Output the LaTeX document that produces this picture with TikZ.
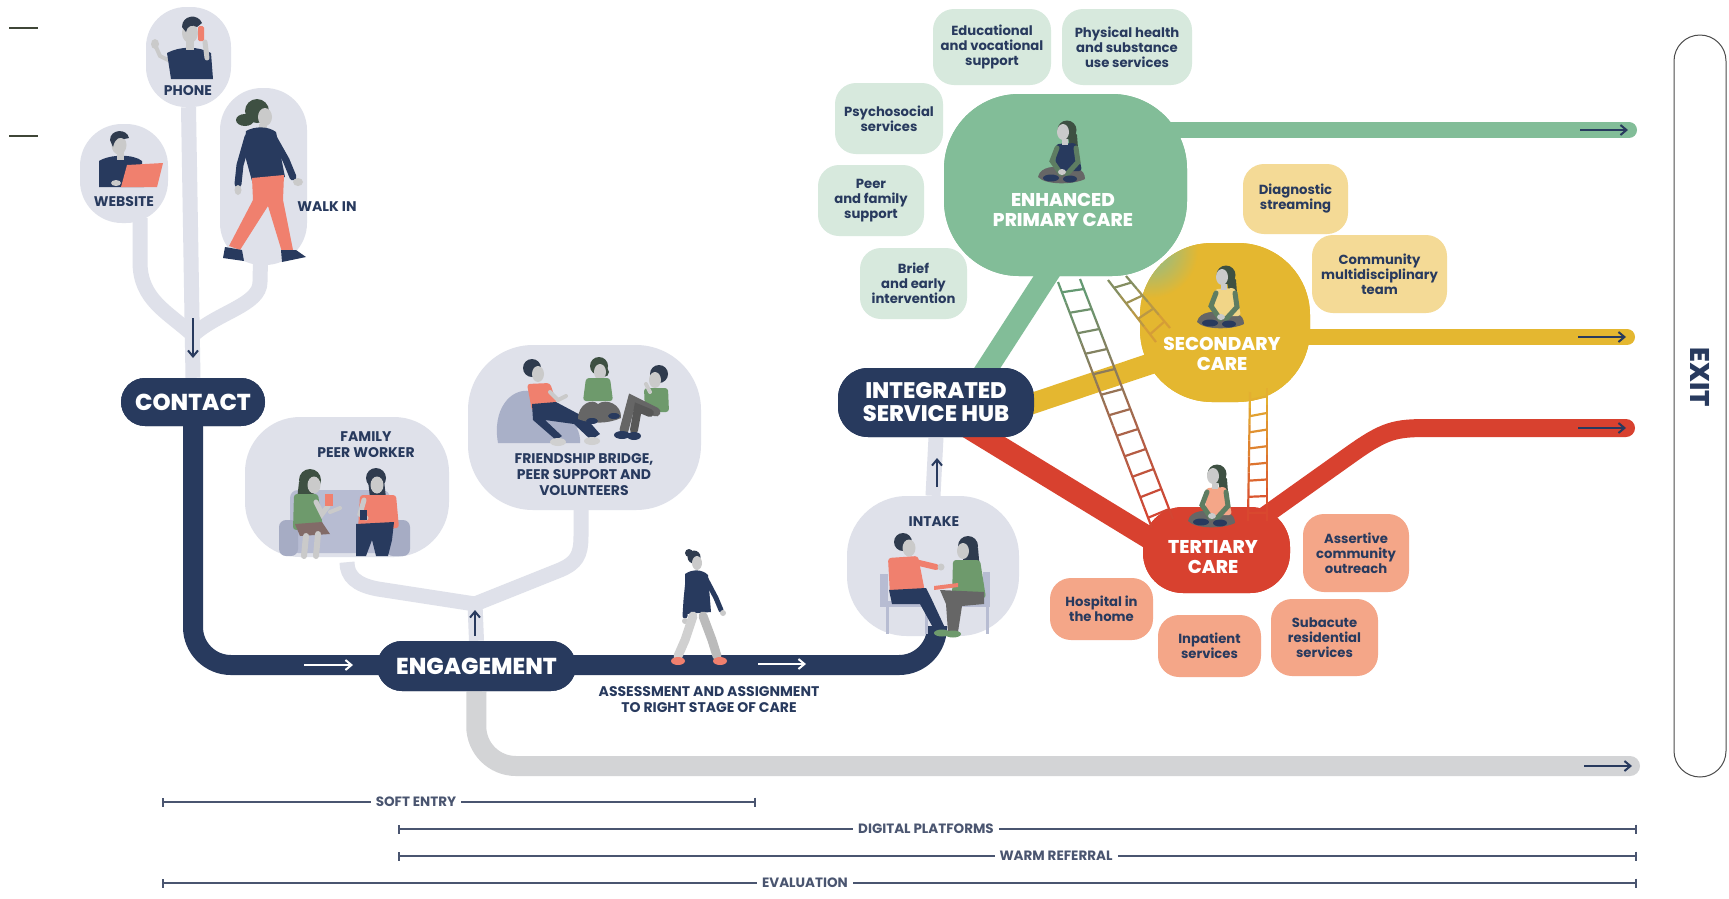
\documentclass[tikz,border=0pt]{standalone}
\usepackage{fontspec}
\setmainfont{Poppins}
\IfFontExistsTF{Poppins ExtraBold}{\newfontfamily\heavy{Poppins ExtraBold}}{\newcommand\heavy{\bfseries}}
\usetikzlibrary{arrows.meta,calc}

\definecolor{navy}{HTML}{283A5E}
\definecolor{bubble}{HTML}{DFE1EA}
\definecolor{trackgray}{HTML}{D3D4D6}
\definecolor{epc}{HTML}{82BD98}
\definecolor{epcdk}{HTML}{5E9E76}
\definecolor{epclt}{HTML}{D7E9DD}
\definecolor{sec}{HTML}{E4B730}
\definecolor{seclt}{HTML}{F4DA96}
\definecolor{ter}{HTML}{D8412F}
\definecolor{terlt}{HTML}{F4A688}
\definecolor{skin}{HTML}{CACACA}
\definecolor{legg}{HTML}{D0D0D0}
\definecolor{hair}{HTML}{2F3B4E}
\definecolor{hairg}{HTML}{3E5042}
\definecolor{coral}{HTML}{F0806E}
\definecolor{shirtg}{HTML}{6E9A6C}
\definecolor{armg}{HTML}{5E7D62}
\definecolor{pantg}{HTML}{666666}
\definecolor{sofa}{HTML}{B7BCD2}
\definecolor{beanbag}{HTML}{A9B0C8}
\definecolor{barline}{HTML}{4A5570}
\definecolor{tick}{HTML}{3F4637}

\tikzset{
  bub/.style={fill=bubble, rounded corners=#1, inner sep=0pt},
  sat/.style={fill=#1, rounded corners=21, inner sep=0pt, align=center,
    text=navy, font=\bfseries\fontsize{13.2}{15}\selectfont},
  navypill/.style={fill=navy, rounded corners=#1, inner sep=0pt, text=white, align=center},
  stem/.style={bubble, line width=15},
  caplbl/.style={text=navy, align=center, font=\bfseries\fontsize{14}{16}\selectfont},
  carelbl/.style={text=white, align=center, font=\heavy\fontsize{18.5}{20.5}\selectfont},
  flowarrow/.style={line width=2, -{Straight Barb[length=6pt,width=10pt]}},
  spanbar/.style={barline, line width=1.6, {Bar[width=9pt]}-{Bar[width=9pt]}},
  barlbl/.style={fill=white, inner xsep=5pt, inner ysep=1pt, text=barline,
    font=\bfseries\fontsize{13.5}{15}\selectfont},
}

% ladder between two rails: #1 top-left, #2 top-right, #3 bottom-left,
% #4 bottom-right, #5 top colour, #6 bottom colour, #7 number of rungs
\newcommand\ladderdraw[7]{%
  \foreach \k in {1,...,#7}{%
    \pgfmathsetmacro\ta{(\k-1)/#7}%
    \pgfmathsetmacro\tb{\k/#7}%
    \pgfmathsetmacro\tm{(\k-0.5)/#7}%
    \pgfmathtruncatemacro\pc{100-100*(\k-0.5)/#7}%
    \draw[line width=2.2, color=#5!\pc!#6] ($#1!\ta!#3$) -- ($#1!\tb!#3$);
    \draw[line width=2.2, color=#5!\pc!#6] ($#2!\ta!#4$) -- ($#2!\tb!#4$);
    \draw[line width=2.2, color=#5!\pc!#6] ($#1!\tm!#3$) -- ($#2!\tm!#4$);
  }%
}

% cross-legged sitting woman, hips at the origin; #1 is the shirt colour
\newcommand\sitfig[1]{%
  \fill[hairg] (4,-45) circle (9.5);
  \fill[hairg] (5,-49) -- (14,-40) -- (15,-27) -- (6,-29) -- cycle;
  \fill[pantg] (-25,2) .. controls (-23,-9) and (-6,-10) .. (3,-6)
     .. controls (12,-9) and (22,-6) .. (22,4) .. controls (10,10) and (-18,10) .. cycle;
  \fill[#1, rounded corners=3] (-7,-31) -- (13,-32) -- (19,-4) -- (-8,-4) -- cycle;
  \draw[armg, line width=5, line cap=round] (-6,-27) -- (-11,-14) -- (-2,-1);
  \draw[armg, line width=5, line cap=round] (13,-27) -- (15,-13) -- (4,-1);
  \fill[navy] (-12,3) ellipse (8 and 3.5);
  \fill[navy] (7,4) ellipse (7 and 3.5);
  \fill[skin] (-1,-3) ellipse (4 and 3);
  \fill[skin] (0,-43) ellipse (6 and 8);
  \fill[skin] (-1,-36) rectangle (5,-30);
}

\begin{document}
\begin{tikzpicture}[x=1pt,y=-1pt]
\fill[white] (0,0) rectangle (1729,898);
\useasboundingbox (0,0) rectangle (1729,898);

% short rules at the top left
\draw[tick, line width=1.2] (9,28) -- (38,28);
\draw[tick, line width=1.2] (9,136) -- (38,136);

% ---------- entry bubbles and their stems ----------
\node[bub=40, minimum width=85, minimum height=100] (phone) at (188.5,57) {};
\node[bub=42, minimum width=88, minimum height=99] (website) at (124,173.5) {};
\node[bub=42, minimum width=87, minimum height=177] (walkin) at (263.5,176.5) {};
\node[navypill=24, minimum width=144, minimum height=48,
      font=\heavy\fontsize{23}{25}\selectfont] (contact) at (193,402) {CONTACT};
\coordinate (cjoin) at (193,335);

\draw[stem] (phone.south) -- (contact.north);
\draw[stem] ($(website.south)+(16,-5)$) -- (140,262) .. controls (140,300) and (168,312) .. (cjoin);
\draw[stem] ($(walkin.south)+(-3,-5)$) -- (260,282) .. controls (260,305) and (218,312) .. (cjoin);

% ---------- engagement area ----------
\node[bub=55, minimum width=204, minimum height=140] (family) at (347,487) {};
\node[bub=65, minimum width=233, minimum height=165] (friend) at (584.5,427.5) {};
\node[bub=60, minimum width=172, minimum height=140] (intake) at (933,566) {};
\node[navypill=25, minimum width=199, minimum height=50] (engage) at (476.5,666) {};
\node[navypill=30, minimum width=196, minimum height=69] (hub) at (936,402.5) {};
\coordinate (ejoin) at (475,604);

\draw[stem] (engage.north) -- (ejoin);
\draw[stem] (ejoin) -- (378,589) .. controls (356,585) and (347,576) .. ($(family.south)+(0,5)$);
\draw[stem] (ejoin) -- (560,570) .. controls (576,563) and (581,556) .. (581,536) -- ($(friend.south)+(-3.5,-5)$);
\draw[stem] (intake.north) -- (hub.south);

% grey route along the bottom
\coordinate (grayend) at (1630,766);
\draw[trackgray, line width=20, rounded corners=40] (engage.south) -- (476,766) -- (grayend);
\fill[trackgray] (grayend) circle (10);

% ---------- coloured routes out of the hub ----------
\coordinate (greenend) at (1629,130);
\coordinate (yellowend) at (1627,337);
\coordinate (redend) at (1626,428);
\node[fill=epc, rounded corners=75, minimum width=243, minimum height=182, inner sep=0pt] (epcb) at (1065.5,185) {};
\node[fill=sec, rounded corners=72, minimum width=170, minimum height=159, inner sep=0pt] (secb) at (1225,322.5) {};
\node[fill=ter, rounded corners=40, minimum width=147, minimum height=86, inner sep=0pt] (terb) at (1216.5,550) {};

% routes are drawn first, then the blobs redrawn on top
\draw[epc, line width=16, line cap=round] (epcb.center |- greenend) -- (greenend);
\draw[sec, line width=16, line cap=round] (secb.center |- yellowend) -- (yellowend);
\draw[ter, line width=18, line cap=round] (terb.center) -- (1350,455)
   .. controls (1385,430) and (1395,428) .. (1428,428) -- (redend);
\draw[epc, line width=22] ($(hub.center)+(29,0)$) -- ($(epcb.center)+(-2,65)$);
\draw[sec, line width=21] ($(hub.east)+(-20,7)$) -- ($(secb.center)+(-35,28)$);
\draw[ter, line width=22] ($(hub.center)+(24,20)$) -- ($(terb.center)+(-46,1)$);

\fill[epc, rounded corners=75] (944,94) rectangle (1187,276);
\fill[sec, rounded corners=72] (1140,243) rectangle (1310,402);
% soft green-to-yellow blend where the two stages overlap
\begin{scope}
  \clip[rounded corners=72] (1140,243) rectangle (1310,402);
  \shade[inner color=epc, outer color=sec] (1150,250) circle (48);
\end{scope}
\fill[ter, rounded corners=40] (1143,507) rectangle (1290,593);

% main navy route
\draw[navy, line width=20, rounded corners=38] (contact.south) -- (193,665) -- (937,665) -- ($(intake.south)+(4,-10)$);
\node[navypill=25, minimum width=199, minimum height=50,
      font=\heavy\fontsize{23}{25}\selectfont] (engage) at (476.5,666) {ENGAGEMENT};
\node[navypill=30, minimum width=196, minimum height=69,
      font=\heavy\fontsize{22.5}{23}\selectfont] (hub) at (936,402.5) {INTEGRATED\\SERVICE HUB};
\node[navypill=24, minimum width=144, minimum height=48,
      font=\heavy\fontsize{23}{25}\selectfont] (contact) at (193,402) {CONTACT};

% ---------- service bubbles ----------
\node[sat=epclt, minimum width=118, minimum height=76] (edu) at (992,47) {Educational\\and vocational\\support};
\node[sat=epclt, minimum width=130, minimum height=76] (phys) at (1127,47) {Physical health\\and substance\\use services};
\node[sat=epclt, minimum width=108, minimum height=71] (psycho) at (889,118.5) {Psychosocial\\services};
\node[sat=epclt, minimum width=106, minimum height=71] (peer) at (871,200.5) {Peer\\and family\\support};
\node[sat=epclt, minimum width=107, minimum height=71] (brief) at (913.5,283.5) {Brief\\and early\\intervention};
\node[sat=seclt, minimum width=105, minimum height=70] (diag) at (1295.5,199) {Diagnostic\\streaming};
\node[sat=seclt, minimum width=135, minimum height=78] (cmt) at (1379.5,274) {Community\\multidisciplinary\\team};
\node[sat=terlt, minimum width=103, minimum height=62] (hosp) at (1101.5,609) {Hospital in\\the home};
\node[sat=terlt, minimum width=103, minimum height=62] (inpat) at (1209.5,646) {Inpatient\\services};
\node[sat=terlt, minimum width=107, minimum height=77] (subac) at (1324.5,637.5) {Subacute\\residential\\services};
\node[sat=terlt, minimum width=106, minimum height=78] (aco) at (1356,553) {Assertive\\community\\outreach};

% ---------- ladders between the stages of care ----------
\ladderdraw{(1058,282)}{(1080,279)}{(1152,528)}{(1173,519)}{epcdk}{ter}{12}
\ladderdraw{(1108,280)}{(1126,276)}{(1156,342)}{(1170,328)}{epcdk}{sec!80!ter}{4}
\ladderdraw{(1250,392)}{(1267,388)}{(1248,521)}{(1267,521)}{sec}{ter}{8}

% ---------- stage labels and sitting figures ----------
\node[carelbl] (epct) at (1063,210) {ENHANCED\\PRIMARY CARE};
\node[carelbl] (sect) at (1222,354) {SECONDARY\\CARE};
\node[carelbl] (tert) at (1213,557) {TERTIARY\\CARE};
\begin{scope}[shift={(1063,175)}]\sitfig{navy}\end{scope}
\begin{scope}[shift={(1222,320)}]\sitfig{seclt!85!sec}\end{scope}
\begin{scope}[shift={(1213,519)}]\sitfig{terlt}\end{scope}

% ---------- entry figures ----------
% phone caller
\draw[skin, line width=4, line cap=round] (172,62) -- (160,56) -- (156,47);
\fill[skin] (155,44) ellipse (4 and 5);
\fill[navy] (167,53) .. controls (180,46) and (198,46) .. (211,53) -- (213,79) -- (171,79) -- cycle;
\fill[skin] (186,40) rectangle (194,50);
\fill[skin] (190,33) ellipse (8 and 10);
\fill[hair] (182,27) .. controls (182,15) and (198,13) .. (202,23) -- (197,27) .. controls (192,24) and (187,26) .. (186,32) -- cycle;
\draw[skin, line width=5, line cap=round] (207,58) -- (205,42);
\fill[coral, rounded corners=1.5] (198,26) rectangle (204,41);
\node[caplbl] (phonet) at (188,91) {PHONE};

% website visitor
\fill[navy] (99,161) .. controls (110,154) and (134,154) .. (142,161) -- (144,187) -- (99,187) -- cycle;
\fill[skin] (117,152) rectangle (124,160);
\fill[skin] (119,145) ellipse (7.5 and 9.5);
\fill[hair] (110,140) .. controls (110,129) and (127,128) .. (129,138) -- (124,139) .. controls (120,136) and (115,138) .. (113,147) -- cycle;
\fill[coral] (121,187) -- (127,165) -- (163,163) -- (157,187) -- cycle;
\fill[skin] (116,183) ellipse (5 and 3);
\node[caplbl] (websitet) at (124,202) {WEBSITE};

% walk-in visitor
\fill[hairg] (257,111) circle (12);
\fill[hairg] (245,120) ellipse (9 and 6);
\fill[skin] (265,117) ellipse (7 and 9);
\fill[skin] (259,124) rectangle (267,132);
\fill[navy] (246,131) .. controls (255,126) and (268,126) .. (276,132) -- (285,177) -- (252,181) -- (244,152) -- cycle;
\draw[navy, line width=7, line cap=round] (248,137) -- (240,165) -- (238,184);
\fill[skin] (238,190) ellipse (3.5 and 5);
\draw[navy, line width=7, line cap=round] (273,137) -- (286,160) -- (293,177);
\fill[skin] (298,182) ellipse (5 and 4);
\fill[coral] (252,178) -- (284,175) -- (283,200) -- (293,250) -- (282,252) -- (268,206) -- (240,250) -- (229,246) -- (253,200) -- cycle;
\fill[navy] (225,247) -- (242,250) -- (244,261) -- (223,258) -- cycle;
\fill[navy] (281,250) -- (296,250) -- (306,257) -- (282,262) -- cycle;
\node[caplbl] (walkint) at (327,207) {WALK IN};

% ---------- engagement figures ----------
% family peer worker: two women on a sofa
\node[caplbl] (familyt) at (366,445) {FAMILY\\PEER WORKER};
\fill[sofa, rounded corners=8] (290,490) rectangle (390,553);
\fill[sofa!88!navy, rounded corners=7] (279,520) rectangle (298,556);
\fill[sofa!88!navy, rounded corners=7] (386,520) rectangle (410,556);
\fill[hairg] (310,480) circle (11);
\fill[hairg] (299,482) -- (314,482) -- (314,500) -- (297,500) -- cycle;
\fill[skin] (314,485) ellipse (6.5 and 8.5);
\fill[shirtg, rounded corners=3] (294,494) -- (318,494) -- (323,528) -- (293,530) -- cycle;
\fill[pantg!80!coral] (295,524) -- (322,522) -- (330,534) -- (300,536) -- cycle;
\draw[skin, line width=6, line cap=round] (318,534) -- (316,556);
\draw[skin, line width=6, line cap=round] (306,536) -- (304,556);
\draw[skin, line width=5, line cap=round] (316,502) -- (322,514) -- (328,506);
\fill[coral] (325,494) rectangle (333,506);
\draw[skin, line width=4, line cap=round] (330,512) -- (340,508);
\fill[hair] (376,478) circle (10);
\fill[hair] (368,480) -- (384,480) -- (386,498) -- (370,498) -- cycle;
\fill[skin] (377,485) ellipse (6.5 and 8.5);
\fill[coral, rounded corners=3] (360,495) -- (396,495) -- (399,528) -- (358,530) -- cycle;
\fill[navy] (356,524) -- (394,522) -- (392,540) -- (388,556) -- (376,556) -- (372,540) -- (366,556) -- (356,556) -- cycle;
\draw[skin, line width=5, line cap=round] (364,500) -- (360,514) -- (366,518);
\fill[navy] (360,510) rectangle (367,520);

% friendship bridge: three people, one on a beanbag
\node[caplbl] (friendt) at (584,475) {FRIENDSHIP BRIDGE,\\PEER SUPPORT AND\\VOLUNTEERS};
\fill[beanbag] (498,443) .. controls (492,410) and (510,388) .. (530,391)
   .. controls (556,395) and (582,424) .. (580,443) -- cycle;
\fill[hair] (532,368) circle (9);
\fill[skin] (538,374) ellipse (6 and 8);
\fill[coral, rounded corners=3] (527,384) -- (550,383) -- (558,407) -- (532,411) -- cycle;
\fill[navy] (532,404) -- (556,402) -- (586,418) -- (600,434) -- (591,440) -- (574,424) -- (545,420) -- (562,436) -- (556,440) -- (533,420) -- cycle;
\fill[legg] (592,441) ellipse (8 and 4);
\fill[legg] (558,442) ellipse (8 and 4);
\draw[skin, line width=4, line cap=round] (550,392) -- (558,400) -- (566,396);
\fill[hairg] (599,366) circle (9);
\fill[hairg] (604,372) circle (5);
\fill[skin] (600,372) ellipse (6 and 8);
\fill[shirtg, rounded corners=3] (586,378) -- (610,378) -- (613,401) -- (583,401) -- cycle;
\fill[pantg] (578,419) .. controls (578,404) and (592,398) .. (598,404)
   .. controls (606,398) and (622,404) .. (621,418) .. controls (608,424) and (590,424) .. cycle;
\fill[navy] (592,421) ellipse (6 and 3);
\fill[navy] (614,416) ellipse (6 and 3);
\fill[hair] (659,374) circle (9);
\fill[skin] (655,380) ellipse (6 and 8);
\fill[shirtg, rounded corners=3] (644,388) -- (668,388) -- (669,412) -- (645,412) -- cycle;
\draw[pantg, line width=9, line cap=round] (656,412) -- (632,400) -- (624,430);
\draw[pantg!85!black, line width=8, line cap=round] (650,413) -- (638,408) -- (634,430);
\fill[navy] (622,435) ellipse (8 and 4);
\fill[navy] (634,436) ellipse (7 and 4);
\draw[skin, line width=4, line cap=round] (650,392) -- (646,384);

% intake conversation
\node[caplbl] (intaket) at (934,522) {INTAKE};
\fill[sofa] (880,574) rectangle (888,607);
\fill[sofa] (882,601) rectangle (930,607);
\draw[sofa, line width=3] (887,607) -- (887,634);
\draw[sofa, line width=3] (926,607) -- (926,634);
\fill[sofa] (983,572) rectangle (990,607);
\fill[sofa] (952,601) rectangle (990,607);
\draw[sofa, line width=3] (956,607) -- (956,634);
\draw[sofa, line width=3] (987,607) -- (987,634);
\fill[hair] (903,542) circle (9);
\fill[skin] (909,548) ellipse (6.5 and 8.5);
\fill[coral, rounded corners=3] (888,558) -- (918,556) -- (925,592) -- (890,595) -- cycle;
\draw[coral, line width=6, line cap=round] (915,562) -- (936,567);
\fill[skin] (941,567) circle (3.5);
\fill[navy] (889,590) -- (926,588) -- (932,600) -- (946,630) -- (936,633) -- (920,604) -- (892,604) -- cycle;
\fill[shirtg] (942,633) ellipse (8 and 3.5);
\fill[hair] (968,546) circle (10);
\fill[hair] (962,548) -- (978,548) -- (980,571) -- (964,567) -- cycle;
\fill[skin] (963,551) ellipse (6 and 8);
\fill[shirtg, rounded corners=3] (953,560) -- (980,560) -- (986,598) -- (952,598) -- cycle;
\fill[pantg] (940,590) -- (984,592) -- (984,604) -- (962,606) -- (958,632) -- (948,632) -- (946,604) -- cycle;
\fill[coral] (934,586) -- (958,583) -- (958,587) -- (934,590) -- cycle;
\fill[shirtg] (953,634) ellipse (8 and 3.5);

% walker on the way to intake
\fill[hair] (694,557) circle (6.5);
\fill[hair] (689,553) circle (4);
\fill[skin] (697,563) ellipse (5 and 7);
\fill[navy] (685,574) .. controls (692,569) and (702,569) .. (708,575) -- (711,612) -- (686,614) -- cycle;
\draw[navy, line width=5, line cap=round] (706,579) -- (716,598) -- (721,610);
\draw[navy, line width=5, line cap=round] (688,580) -- (686,600) -- (685,616);
\fill[skin] (723,613) circle (3);
\fill[skin] (685,621) circle (3);
\draw[legg, line width=9, line cap=round] (693,616) -- (685,640) -- (678,656);
\draw[legg!90!black, line width=9, line cap=round] (703,616) -- (712,640) -- (717,656);
\fill[coral] (678,661) ellipse (7 and 4);
\fill[coral] (720,661) ellipse (7 and 4);

\node[caplbl] (assess) at (709,700) {ASSESSMENT AND ASSIGNMENT\\TO RIGHT STAGE OF CARE};

% ---------- direction arrows ----------
\draw[navy, flowarrow] (193,318) -- (193,358);
\draw[navy, flowarrow] (475,636) -- (475,610);
\draw[navy, flowarrow] (937,487) -- (937,458);
\draw[white, flowarrow] (304,665) -- (353,665);
\draw[white, flowarrow] (758,664) -- (806,664);
\draw[navy, flowarrow] (1580,130) -- (1628,130);
\draw[navy, flowarrow] (1578,337) -- (1626,337);
\draw[navy, flowarrow] (1578,428) -- (1626,428);
\draw[navy, flowarrow] (1584,766) -- (1632,766);

% ---------- exit column ----------
\node[draw=black!70, line width=1, fill=white, rounded corners=26, minimum width=52,
      minimum height=742, inner sep=0pt] (exit) at (1700,406) {};
\node[rotate=-90, text=navy, font=\heavy\fontsize{27}{29}\selectfont] (exitt) at (1700,377) {EXIT};

% ---------- spans along the bottom ----------
\coordinate (se1) at (162,802);  \coordinate (se2) at (756,802);
\coordinate (dp1) at (398,829);  \coordinate (dp2) at (1637,829);
\coordinate (wr1) at (398,856);  \coordinate (wr2) at (1637,856);
\coordinate (ev1) at (162,883);  \coordinate (ev2) at (1637,883);
\draw[spanbar] (se1) -- (se2);
\draw[spanbar] (dp1) -- (dp2);
\draw[spanbar] (wr1) -- (wr2);
\draw[spanbar] (ev1) -- (ev2);
\node[barlbl] (set) at (416,802) {SOFT ENTRY};
\node[barlbl] (dpt) at (926,829) {DIGITAL PLATFORMS};
\node[barlbl] (wrt) at (1056,856) {WARM REFERRAL};
\node[barlbl] (evt) at (805,883) {EVALUATION};
\end{tikzpicture}
\end{document}
